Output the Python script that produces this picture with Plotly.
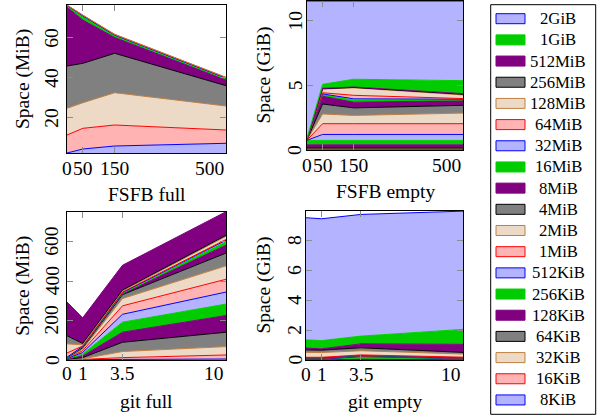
import plotly.graph_objects as go

W, H = 603, 418

series_names = ["8KiB", "16KiB", "32KiB", "64KiB", "128KiB", "256KiB", "512KiB",
                "1MiB", "2MiB", "4MiB", "8MiB", "16MiB", "32MiB", "64MiB",
                "128MiB", "256MiB", "512MiB", "1GiB", "2GiB"]

fsfb_x = [0, 50, 150, 500]
git_x = [0, 1, 3.5, 10]

fsfb_tick_vals = [0, 50, 150, 500]
fsfb_tick_labels = ["0", "50", "150", "500"]
git_tick_vals = [0, 1, 3.5, 10]
git_tick_labels = ["0", "1", "3.5", "10"]

# FSFB full (MiB), per series, at fsfb_x (None = series absent)
fsfb_full = [
    [2.35, 4.35, 5.85, 7.2],
    [9.0, 10.35, 10.5, 6.65],
    [13.35, 12.8, 16.15, 12.0],
    [21.15, 19.7, 19.7, 10.15],
    [29.45, 21.6, 7.9, 2.8],
    [0.6, 1.8, 0.9, 0.7],
    [0.2, 0.3, 0.3, 0.3],
    [0.2, 0.3, 0.3, 0.3],
    [0.05, 0.1, 0.1, 0.1],
    None, None, None, None, None, None, None, None, None, None,
]

# FSFB empty (GiB)
fsfb_empty = [
    [0.03, 0.03, 0.03, 0.03],
    [0.03, 0.03, 0.03, 0.03],
    [0.04, 0.04, 0.04, 0.04],
    [0.05, 0.05, 0.05, 0.05],
    [0.25, 0.25, 0.25, 0.25],
    [0.34, 0.34, 0.34, 0.34],
    [0.01, 0.46, 0.46, 0.46],
    [0.01, 0.83, 0.83, 0.83],
    [0.01, 0.75, 0.64, 0.82],
    [0.01, 0.77, 0.58, 0.60],
    [0.01, 0.60, 0.43, 0.37],
    [0.01, 0.13, 0.17, 0.04],
    [0.01, 0.05, 0.10, 0.06],
    [0.01, 0.09, 0.27, 0.05],
    [0.01, 0.28, 0.58, 0.28],
    [0.01, 0.03, 0.03, 0.05],
    [0.01, 0.03, 0.03, 0.05],
    [0.05, 0.31, 0.60, 1.00],
    [10.60, 6.43, 6.04, 6.15],
]

# git full (MiB), at git_x
git_full = [
    [1, 1, 3, 5],
    [1, 2, 9, 20.5],
    [1, 3, 31, 42.5],
    [1, 6, 47, 73],
    [1, 8, 51, 85],
    [1, 10, 51, 58],
    [1, 8, 40, 61],
    [1, 9, 43, 65],
    [1, 8, 37, 68],
    [1, 7, 20, 65],
    [1, 3, 4, 40],
    [1, 2, 3, 17],
    [1, 2, 3, 8],
    [22, 2, 3, 4],
    [47, 6, 5, 16],
    [42, 7, 5, 5],
    [172, 130, 126, 120],
    None,
    None,
]

# git empty (GiB)
git_empty = [
    [0.01, 0.01, 0.02, 0.01],
    [0.01, 0.01, 0.02, 0.02],
    [0.01, 0.01, 0.02, 0.02],
    [0.01, 0.01, 0.02, 0.01],
    [0.01, 0.01, 0.02, 0.01],
    [0.01, 0.01, 0.04, 0.01],
    [0.01, 0.01, 0.08, 0.02],
    [0.03, 0.03, 0.04, 0.02],
    [0.02, 0.02, 0.02, 0.01],
    [0.01, 0.01, 0.01, 0.01],
    [0.01, 0.01, 0.01, 0.01],
    [0.01, 0.01, 0.01, 0.01],
    [0.01, 0.01, 0.01, 0.01],
    [0.02, 0.02, 0.02, 0.02],
    [0.33, 0.32, 0.28, 0.21],
    [0.17, 0.16, 0.20, 0.11],
    [0.12, 0.09, 0.26, 0.54],
    [0.55, 0.55, 0.52, 1.00],
    [8.18, 8.16, 8.15, 7.92],
]

line_cycle = ["#0000ff", "#ff0000", "#bf8040", "#000000", "#800080", "#00d000"]
fill_cycle = ["#b3b3ff", "#ffb3b3", "#ecd9c6", "#808080", "#800080", "#00cc00"]

FONT = '"Liberation Serif", "Times New Roman", Times, serif'
FS = 19.5
LFS = 16.7
TICKC = "#8c8c8c"


def pxx(p):
    return p / W


def pxy(p):
    return 1 - p / H


panels = [
    dict(data=fsfb_full, x=fsfb_x, ax="", xpx=(67, 226), ypx=(5, 153), yr=[2.35, 76.35],
         yt=[20, 40, 60], xt=fsfb_tick_vals, xl=fsfb_tick_labels, xr=[0, 500],
         ytitle="Space (MiB)", xtitle="FSFB full", ytx=23, ytl_x=52, xtlab_y=169, xtitle_y=195),
    dict(data=fsfb_empty, x=fsfb_x, ax="2", xpx=(307, 463), ypx=(1, 150), yr=[0, 11.5],
         yt=[0, 5, 10], xt=fsfb_tick_vals, xl=fsfb_tick_labels, xr=[0, 500],
         ytitle="Space (GiB)", xtitle="FSFB empty", ytx=263, ytl_x=295, xtlab_y=165, xtitle_y=192),
    dict(data=git_full, x=git_x, ax="3", xpx=(66.7, 226), ypx=(211.7, 360), yr=[0, 753],
         yt=[0, 200, 400, 600], xt=git_tick_vals, xl=git_tick_labels, xr=[0, 10],
         ytitle="Space (MiB)", xtitle="git full", ytx=23, ytl_x=52, xtlab_y=373, xtitle_y=401),
    dict(data=git_empty, x=git_x, ax="4", xpx=(306, 463), ypx=(211, 360), yr=[0, 9.98],
         yt=[0, 2, 4, 6, 8], xt=git_tick_vals, xl=git_tick_labels, xr=[0, 10],
         ytitle="Space (GiB)", xtitle="git empty", ytx=263, ytl_x=294.5, xtlab_y=374, xtitle_y=401),
]

fig = go.Figure()
annotations = []
shapes = []
layout = dict(
    width=W, height=H, margin=dict(l=0, r=0, t=0, b=0), autosize=False,
    paper_bgcolor="white", plot_bgcolor="white", showlegend=False,
    font=dict(family=FONT, size=FS, color="black"),
)


def txt(**kw):
    d = dict(showarrow=False, font=dict(family=FONT, size=kw.pop("size", FS), color="black"))
    d.update(kw)
    return d


for p in panels:
    ax = p["ax"]
    xa = "x" + ax
    ya = "y" + ax
    for i, vals in enumerate(p["data"]):
        if vals is None:
            continue
        fig.add_trace(go.Scatter(
            x=p["x"], y=vals, name=series_names[i], mode="lines",
            stackgroup="s" + (ax or "1"),
            line=dict(color=line_cycle[i % 6], width=1),
            fillcolor=fill_cycle[i % 6],
            xaxis=xa, yaxis=ya, hoverinfo="skip",
        ))
    layout["xaxis" + ax] = dict(
        domain=[pxx(p["xpx"][0]), pxx(p["xpx"][1])], range=p["xr"], anchor=ya,
        showline=True, linecolor="black", linewidth=1, mirror="ticks",
        ticks="inside", ticklen=6, tickcolor=TICKC, tickwidth=1,
        tickvals=p["xt"][1:-1], showticklabels=False,
        showgrid=False, zeroline=False, fixedrange=True,
    )
    layout["yaxis" + ax] = dict(
        domain=[pxy(p["ypx"][1]), pxy(p["ypx"][0])], range=p["yr"], anchor=xa,
        showline=True, linecolor="black", linewidth=1, mirror="ticks",
        ticks="inside", ticklen=6, tickcolor=TICKC, tickwidth=1,
        tickvals=p["yt"], showticklabels=False,
        showgrid=False, zeroline=False, fixedrange=True,
    )
    # y tick labels (rotated)
    for tv in p["yt"]:
        annotations.append(txt(x=pxx(p["ytl_x"]), xref="paper", y=tv, yref=ya, text=str(tv),
                               textangle=-90, xanchor="center", yanchor="middle"))
    # x tick labels
    n = len(p["xt"])
    for j, (tv, tl) in enumerate(zip(p["xt"], p["xl"])):
        annotations.append(txt(x=tv, xref=xa, y=pxy(p["xtlab_y"]), yref="paper", text=tl,
                               xanchor="right" if j == n - 1 else "center", yanchor="middle"))
    # axis titles
    annotations.append(txt(x=sum(p["xpx"]) / 2 / W, xref="paper", y=pxy(p["xtitle_y"]),
                           yref="paper", text=p["xtitle"], xanchor="center", yanchor="middle"))
    annotations.append(txt(x=pxx(p["ytx"]), xref="paper", y=pxy(sum(p["ypx"]) / 2),
                           yref="paper", text=p["ytitle"], textangle=-90,
                           xanchor="center", yanchor="middle"))

# legend (manual, top entry = last series)
shapes.append(dict(type="rect", xref="paper", yref="paper",
                   x0=pxx(490.7), x1=pxx(595.7), y0=pxy(414.3), y1=pxy(4.7),
                   line=dict(color="black", width=1), fillcolor="white", layer="above"))
order = list(range(len(series_names)))[::-1]
for k, i in enumerate(order):
    cy = 18.7 + k * 21.18
    shapes.append(dict(type="rect", xref="paper", yref="paper",
                       x0=pxx(496), x1=pxx(525), y0=pxy(cy + 5), y1=pxy(cy - 5),
                       line=dict(color=line_cycle[i % 6], width=1),
                       fillcolor=fill_cycle[i % 6], layer="above"))
    annotations.append(txt(x=pxx(558), xref="paper", y=pxy(cy), yref="paper",
                           text=series_names[i], size=LFS, xanchor="center", yanchor="middle"))

layout["annotations"] = annotations
layout["shapes"] = shapes
fig.update_layout(**layout)
fig.write_html("out.html")
